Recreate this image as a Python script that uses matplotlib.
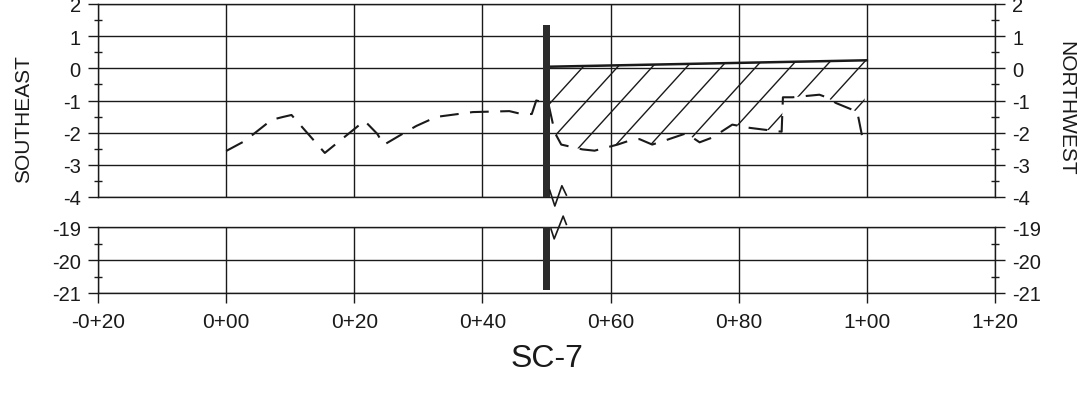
import matplotlib.pyplot as plt
import numpy as np

plt.rcParams['font.family'] = ['Liberation Sans', 'DejaVu Sans']
plt.rcParams['axes.unicode_minus'] = False

# === Donnees ===
stations = [-20, 0, 20, 40, 60, 80, 100, 120]
station_labels = ['-0+20', '0+00', '0+20', '0+40', '0+60', '0+80', '1+00', '1+20']

# profil du terrain (ligne tiretee)
sol_x = [0, 2.9, 7.1, 8.9, 10.2, 15.4, 21.6, 23.6, 24.6, 28.1, 29.7, 32.8, 38.5, 44.2,
         46.1, 47.7, 48.4, 50.3, 51.3, 52.3, 55.6, 57.5, 61.1, 62.9, 64.5, 66.5, 68.4,
         71.8, 73.9, 75.9, 79.0, 81.7, 83.7, 86.7, 86.9, 88.4, 92.6, 93.7, 95.2, 98.5, 99.3]
sol_y = [-2.57, -2.26, -1.60, -1.51, -1.45, -2.63, -1.63, -2.04, -2.38, -1.97, -1.79, -1.51,
         -1.36, -1.33, -1.42, -1.42, -1.00, -1.10, -2.00, -2.37, -2.52, -2.56, -2.37, -2.25,
         -2.20, -2.37, -2.25, -2.02, -2.30, -2.15, -1.75, -1.85, -1.90, -1.97, -0.90, -0.90,
         -0.82, -0.90, -1.08, -1.35, -2.15]

# remblai (haut de la zone hachuree)
remblai_x = [50.3, 100]
remblai_y = [0.05, 0.25]

# mur
mur_x = 50
mur_largeur = 1.1
mur_haut = 1.35
mur_bas = -20.9

# marques de coupure
coupure_haut_x = [50.5, 51.3, 52.4, 53.1]
coupure_haut_y = [-3.79, -4.28, -3.65, -3.94]
coupure_bas_x = [50.7, 51.2, 52.6, 53.1]
coupure_bas_y = [-19.06, -19.36, -18.67, -18.92]

couleur = '#1a1a1a'

fig = plt.figure(figsize=(10.77, 4.14), dpi=100)
L, W = 98 / 1077, (995 - 98) / 1077
ax1 = fig.add_axes([L, 1 - 198 / 414, W, 193 / 414])
ax2 = fig.add_axes([L, 1 - 294 / 414, W, 66 / 414])


def style_axe(ax, ymin, ymax):
    ax.set_xlim(-20, 120)
    ax.set_ylim(ymin, ymax)
    ax.set_xticks(stations)
    ax.set_yticks(np.arange(ymin, ymax + 1))
    ax.set_yticks(np.arange(ymin, ymax, 0.5), minor=True)
    ax.grid(True, which='major', color=couleur, linewidth=1.0)
    for s in ax.spines.values():
        s.set_color(couleur)
        s.set_linewidth(1.0)
    ax.tick_params(axis='y', which='major', direction='out', length=7, width=1.0,
                   left=True, right=True, labelleft=True, labelright=True,
                   labelsize=14.5, pad=5.5, colors=couleur)
    ax.tick_params(axis='y', which='minor', direction='inout', length=6, width=1.0,
                   left=True, right=True, colors=couleur)
    ax.set_axisbelow(True)


style_axe(ax1, -4, 2)
style_axe(ax2, -21, -19)
ax1.tick_params(axis='x', length=0, labelbottom=False)
ax2.set_xticklabels(station_labels)
ax2.tick_params(axis='x', direction='out', length=7, width=1.0, labelsize=15, pad=7,
                colors=couleur)

# ligne du terrain
ax1.plot(sol_x, sol_y, color=couleur, linewidth=1.5, linestyle=(0, (9, 5.5)), zorder=3)

# zone hachuree entre le remblai et le terrain
i0 = sol_x.index(50.3)
poly_x = remblai_x + sol_x[i0:][::-1]
poly_y = remblai_y + sol_y[i0:][::-1]
zone = ax1.fill(poly_x, poly_y, facecolor='none', edgecolor='none')[0]

px_x = W * 1077 / 140
px_y = (193 / 6)
pente = 1.1 * px_x / px_y
for c in np.arange(50.1, 106, 5.4):
    xs = np.array([c - 25, c + 10])
    h, = ax1.plot(xs, pente * (xs - c), color=couleur, linewidth=1.0, zorder=3)
    h.set_clip_path(zone)

ax1.plot(remblai_x, remblai_y, color=couleur, linewidth=1.8, zorder=4)

# mur
ax1.bar(mur_x, mur_haut + 4, bottom=-4, width=mur_largeur, color='#2b2b2b', zorder=5)
ax2.bar(mur_x, -19 - mur_bas, bottom=mur_bas, width=mur_largeur, color='#2b2b2b', zorder=5)

# marques de coupure
ax1.plot(coupure_haut_x, coupure_haut_y, color=couleur, linewidth=1.2, clip_on=False, zorder=6)
ax2.plot(coupure_bas_x, coupure_bas_y, color=couleur, linewidth=1.2, clip_on=False, zorder=6)

fig.text(547 / 1077, 1 - 359 / 414, 'SC-7', ha='center', va='center', fontsize=23, color=couleur)
fig.text(24 / 1077, 1 - 119 / 414, 'SOUTHEAST', ha='center', va='center', rotation=90,
         fontsize=15, color=couleur)
fig.text(1066 / 1077, 1 - 108 / 414, 'NORTHWEST', ha='center', va='center', rotation=270,
         fontsize=15, color=couleur)

plt.savefig('out.png', dpi=100)
plt.close()
